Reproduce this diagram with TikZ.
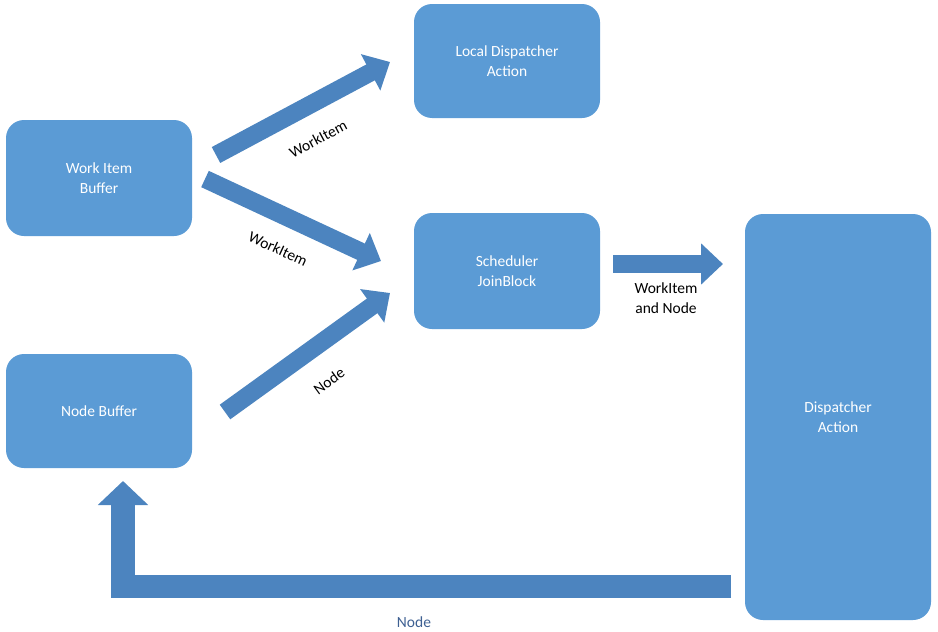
\documentclass[tikz,border=0pt]{standalone}
\usepackage{fontspec}
\setmainfont{Carlito}
\usepackage{tikz}
\usetikzlibrary{arrows.meta,positioning,calc}
\definecolor{boxblue}{RGB}{91,155,213}
\definecolor{flowblue}{RGB}{76,132,191}
\definecolor{notetext}{RGB}{62,96,146}

\begin{document}
\begin{tikzpicture}[x=1pt,y=-1pt,
  every node/.style={font=\fontsize{15.5}{20}\selectfont},
  box/.style={fill=boxblue,text=white,rounded corners=18pt,align=center,minimum width=186pt,inner sep=0pt},
  flow/.style={draw=flowblue,line width=18pt,-{Triangle[width=40pt,length=22pt]}},
  lbl/.style={align=center,inner sep=1pt}]
\useasboundingbox (0,0) rectangle (938,632);
\node[box,minimum height=116pt] (wib) at (99,178) {Work Item\\Buffer};
\node[box,minimum height=114pt] (nb) at (99,411) {Node Buffer};
\node[box,minimum height=114pt] (lda) at (507,61) {Local Dispatcher\\Action};
\node[box,minimum height=116pt] (sjb) at (507,271) {Scheduler\\JoinBlock};
\node[box,minimum height=406pt] (da) at (838,417) {Dispatcher\\Action};
% block arrow ends
\coordinate (wib1) at (216,155);
\coordinate (lda1) at (390,62);
\coordinate (wib2) at (205,179);
\coordinate (sjb1) at (381,261);
\coordinate (nb1) at (225,412);
\coordinate (sjb2) at (390,293);
\coordinate (sjb3) at (613,264);
\coordinate (da1) at (723,264);
\coordinate (da2) at (731,586.5);
\coordinate (turn) at (123,586.5);
\coordinate (nb2) at (123,481);
\draw[flow] (wib1) -- (lda1);
\draw[flow] (wib2) -- (sjb1);
\draw[flow] (nb1) -- (sjb2);
\draw[flow] (sjb3) -- (da1);
\draw[flow,line width=23.5pt,-{Triangle[width=49pt,length=24pt]}] (da2) -- (turn) -- (nb2);
\node[lbl,rotate=28] (l1) at (318,139) {WorkItem};
\node[lbl,rotate=-25] (l2) at (278,249) {WorkItem};
\node[lbl,rotate=36] (l3) at (329,381) {Node};
\node[lbl] (l4) at (666,298) {WorkItem\\and Node};
\node[lbl,text=notetext] (l5) at (414,622) {Node};
\end{tikzpicture}
\end{document}
